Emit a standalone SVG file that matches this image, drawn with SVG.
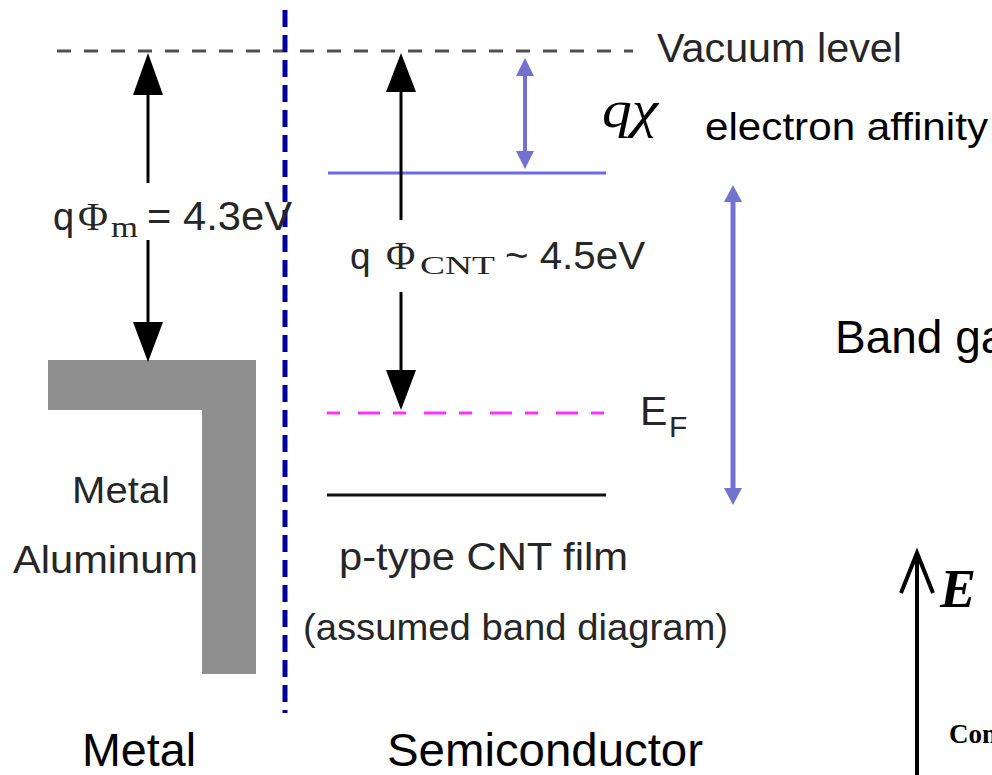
<svg xmlns="http://www.w3.org/2000/svg" width="992" height="775" viewBox="0 0 992 775">
<style>
  .sans { font-family: "Liberation Sans", Arial, sans-serif; }
  .serif { font-family: "Liberation Serif", "Times New Roman", serif; }
  .img { fill: #262626; }
  .main { fill: #000; }
  .blk { stroke: #000; stroke-width: 3; fill: none; }
</style>
<rect width="992" height="775" fill="#fff"/>

<g id="vacuum-level">
  <line x1="57" y1="51" x2="633" y2="51" stroke="#505050" stroke-width="3" stroke-dasharray="14 13"/>
  <text x="657" y="62" class="sans img" font-size="40" textLength="245" lengthAdjust="spacingAndGlyphs">Vacuum level</text>
</g>

<g id="interface">
  <line x1="285" y1="10" x2="285" y2="713" stroke="#00009c" stroke-width="5" stroke-dasharray="17 8"/>
</g>

<g id="metal">
  <path d="M48,360 H256 V674 H202 V410 H48 Z" fill="#8f8f8f"/>
  <text x="72" y="503" class="sans img" font-size="37" textLength="98" lengthAdjust="spacingAndGlyphs">Metal</text>
  <text x="13" y="573" class="sans img" font-size="39" textLength="185" lengthAdjust="spacingAndGlyphs">Aluminum</text>
</g>

<g id="metal-workfunction-label">
  <text x="53" y="230" class="sans img" font-size="38">q</text>
  <text x="78" y="230" class="serif img" font-size="41">Φ</text>
  <text x="111" y="237" class="serif img" font-size="30" textLength="27" lengthAdjust="spacingAndGlyphs">m</text>
  <text x="147" y="230" class="sans img" font-size="40" textLength="145" lengthAdjust="spacingAndGlyphs">= 4.3eV</text>
</g>

<g id="conduction-band">
  <line x1="328" y1="173" x2="606" y2="173" stroke="#6a6af0" stroke-width="3"/>
</g>

<g id="fermi-level">
  <line x1="327" y1="413" x2="606" y2="413" stroke="#ff33ff" stroke-width="3" stroke-dasharray="13 18 22 13"/>
  <text x="640" y="425" class="sans img" font-size="41">E</text>
  <text x="669" y="437" class="sans img" font-size="30">F</text>
</g>

<g id="valence-band">
  <line x1="327" y1="495" x2="606" y2="495" stroke="#111" stroke-width="3"/>
  <text x="339" y="570" class="sans img" font-size="39" textLength="289" lengthAdjust="spacingAndGlyphs">p-type CNT film</text>
  <text x="303" y="640" class="sans img" font-size="37" textLength="425" lengthAdjust="spacingAndGlyphs">(assumed band diagram)</text>
</g>

<g id="cnt-workfunction-label">
  <text x="350" y="269" class="sans img" font-size="37">q</text>
  <text x="386" y="269" class="serif img" font-size="40">Φ</text>
  <text x="420" y="274" class="serif img" font-size="26" textLength="75" lengthAdjust="spacingAndGlyphs">CNT</text>
  <text x="505" y="269" class="sans img" font-size="39" textLength="140" lengthAdjust="spacingAndGlyphs">~ 4.5eV</text>
</g>

<g id="electron-affinity-label">
  <text x="602" y="127" class="serif main" font-size="52" font-style="italic" textLength="56" lengthAdjust="spacingAndGlyphs">qχ</text>
  <text x="705" y="140" class="sans main" font-size="39" textLength="283" lengthAdjust="spacingAndGlyphs">electron affinity</text>
</g>

<g id="band-gap-label">
  <text x="835" y="353" class="sans main" font-size="46">Band ga</text>
</g>

<g id="section-labels">
  <text x="82" y="766" class="sans main" font-size="46" textLength="114" lengthAdjust="spacingAndGlyphs">Metal</text>
  <text x="387" y="766" class="sans main" font-size="46" textLength="316" lengthAdjust="spacingAndGlyphs">Semiconductor</text>
</g>

<g id="energy-axis">
  <line x1="917" y1="554" x2="917" y2="775" stroke="#000" stroke-width="4"/>
  <path d="M901,593 L917,553 L933,593" stroke="#000" stroke-width="4" fill="none"/>
  <text x="940" y="607" class="serif main" font-size="54" font-style="italic" font-weight="bold">E</text>
  <text x="949" y="743" class="serif main" font-size="27" font-weight="bold">Con</text>
</g>

<g id="connectors">
  <line x1="148" y1="95" x2="148" y2="183" class="blk"/>
  <line x1="148" y1="240" x2="148" y2="322" class="blk"/>
  <path d="M148,53 L163,95 L133,95 Z" fill="#000"/>
  <path d="M148,362 L163,322 L133,322 Z" fill="#000"/>
  <line x1="401" y1="92" x2="401" y2="220" class="blk"/>
  <line x1="401" y1="292" x2="401" y2="370" class="blk"/>
  <path d="M401,53 L416,92 L386,92 Z" fill="#000"/>
  <path d="M401,410 L416,370 L386,370 Z" fill="#000"/>
  <line x1="525" y1="75" x2="525" y2="152" stroke="#7373cf" stroke-width="4"/>
  <path d="M525,58 L534,76 L516,76 Z" fill="#7373cf"/>
  <path d="M525,169 L534,151 L516,151 Z" fill="#7373cf"/>
  <line x1="733" y1="200" x2="733" y2="489" stroke="#7373cf" stroke-width="5"/>
  <path d="M733,185 L742,202 L724,202 Z" fill="#7373cf"/>
  <path d="M733,505 L742,488 L724,488 Z" fill="#7373cf"/>
</g>
</svg>
